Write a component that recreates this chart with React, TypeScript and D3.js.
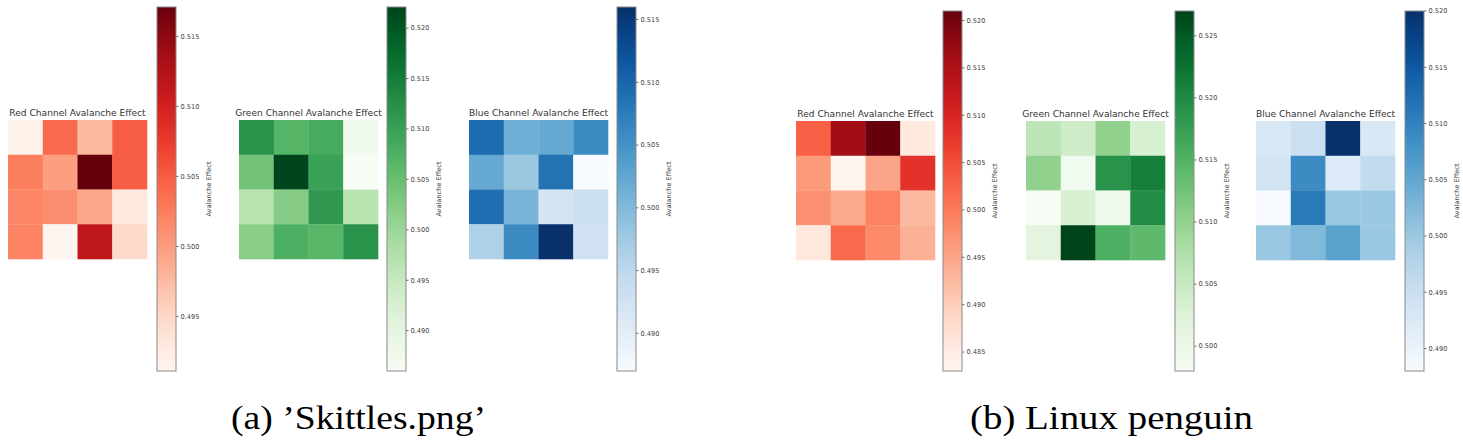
import React from 'react';
import * as d3 from 'd3';

// avalanche effect per 4x4 block, one grid per colour channel
const redSkittles = [
  [0.4916, 0.5041, 0.4976, 0.5049],
  [0.5025, 0.4999, 0.5171, 0.5049],
  [0.5018, 0.5012, 0.4992, 0.4929],
  [0.5020, 0.4911, 0.5114, 0.4947],
];
const greenSkittles = [
  [0.5120, 0.5069, 0.5084, 0.4878],
  [0.5041, 0.5221, 0.5098, 0.4860],
  [0.4968, 0.5022, 0.5113, 0.4968],
  [0.5019, 0.5077, 0.5066, 0.5120],
];
const blueSkittles = [
  [0.5093, 0.5015, 0.5021, 0.5059],
  [0.5021, 0.4980, 0.5085, 0.4870],
  [0.5090, 0.5006, 0.4922, 0.4934],
  [0.4963, 0.5059, 0.5160, 0.4928],
];
const redPenguin = [
  [0.5028, 0.5161, 0.5210, 0.4857],
  [0.4963, 0.4830, 0.4952, 0.5081],
  [0.4974, 0.4944, 0.4990, 0.4925],
  [0.4860, 0.5020, 0.4982, 0.4936],
];
const greenPenguin = [
  [0.5061, 0.5044, 0.5102, 0.5032],
  [0.5102, 0.4992, 0.5189, 0.5212],
  [0.4980, 0.5032, 0.4997, 0.5195],
  [0.5015, 0.5270, 0.5154, 0.5140],
];
const bluePenguin = [
  [0.4928, 0.4950, 0.5200, 0.4928],
  [0.4938, 0.5088, 0.4922, 0.4960],
  [0.4880, 0.5110, 0.5002, 0.5002],
  [0.5002, 0.5024, 0.5056, 0.5002],
];

const titles = [
  'Red Channel Avalanche Effect',
  'Green Channel Avalanche Effect',
  'Blue Channel Avalanche Effect',
];
const cbarLabel = 'Avalanche Effect';
const captions = ['(a) \u2019Skittles.png\u2019', '(b) Linux penguin'];

const W = 1463;
const H = 444;
const mplFont = '"DejaVu Sans", sans-serif';
const capFont = '"Liberation Serif", "Times New Roman", Times, serif';

// where each subplot sits
const panels = [
  { grid: redSkittles, title: titles[0], cmap: d3.interpolateReds, hx: 8, hy: 120, cx: 157, cy0: 7 },
  { grid: greenSkittles, title: titles[1], cmap: d3.interpolateGreens, hx: 239, hy: 120, cx: 387, cy0: 7 },
  { grid: blueSkittles, title: titles[2], cmap: d3.interpolateBlues, hx: 469, hy: 120, cx: 617, cy0: 7 },
  { grid: redPenguin, title: titles[0], cmap: d3.interpolateReds, hx: 796, hy: 121, cx: 943, cy0: 11 },
  { grid: greenPenguin, title: titles[1], cmap: d3.interpolateGreens, hx: 1026, hy: 121, cx: 1175, cy0: 11 },
  { grid: bluePenguin, title: titles[2], cmap: d3.interpolateBlues, hx: 1256, hy: 121, cx: 1405, cy0: 11 },
];
const captionPos = [
  { x: 231, w: 255 },
  { x: 970, w: 283 },
];

const cell = 34.75;
const cbarW = 19;
const cbarBottom = 371;

function Panel({ p, idx }: { p: typeof panels[number]; idx: number }) {
  const flat = p.grid.flat();
  const [lo, hi] = d3.extent(flat) as [number, number];
  const color = d3.scaleSequential(p.cmap).domain([lo, hi]);
  const idxs = d3.range(4);
  const x = d3.scaleBand<number>().domain(idxs).range([p.hx, p.hx + cell * 4]);
  const y = d3.scaleBand<number>().domain(idxs).range([p.hy, p.hy + cell * 4]);
  const cy = d3.scaleLinear().domain([lo, hi]).range([cbarBottom, p.cy0]);
  const ticks = cy.ticks(6);
  const gid = 'cbar' + idx;
  const stops = d3.range(0, 1.0001, 0.05);
  const midY = (p.cy0 + cbarBottom) / 2;

  return (
    <g>
      <defs>
        <linearGradient id={gid} x1="0" y1="1" x2="0" y2="0">
          {stops.map(t => (
            <stop key={t} offset={t} stopColor={p.cmap(t)} />
          ))}
        </linearGradient>
      </defs>
      <text
        x={p.hx + cell * 2}
        y={p.hy - 4}
        textAnchor="middle"
        style={{ fontFamily: mplFont, fontSize: 9.1 }}
        fill="#333"
      >
        {p.title}
      </text>
      {p.grid.map((row, r) =>
        row.map((v, c) => (
          <rect
            key={r + '-' + c}
            x={x(c)}
            y={y(r)}
            width={x.bandwidth() + 0.3}
            height={y.bandwidth() + 0.3}
            fill={color(v)}
          />
        ))
      )}
      <rect
        x={p.cx}
        y={p.cy0}
        width={cbarW}
        height={cbarBottom - p.cy0}
        fill={`url(#${gid})`}
        stroke="#8a8a8a"
        strokeWidth={1}
      />
      {ticks.map(t => (
        <g key={t} transform={`translate(${p.cx + cbarW},${cy(t)})`}>
          <line x1={0} x2={2.5} stroke="#555" strokeWidth={0.8} />
          <text x={4.5} dy="0.35em" style={{ fontFamily: mplFont, fontSize: 6.6 }} fill="#444">
            {d3.format('.3f')(t)}
          </text>
        </g>
      ))}
      <text
        transform={`translate(${p.cx + cbarW + 33},${midY}) rotate(-90)`}
        textAnchor="middle"
        dominantBaseline="central"
        style={{ fontFamily: mplFont, fontSize: 6.6 }}
        fill="#444"
      >
        {cbarLabel}
      </text>
    </g>
  );
}

export default function App() {
  return (
    <svg
      width={W}
      height={H}
      style={{ position: 'absolute', left: 0, top: 0, background: '#fff' }}
    >
      <rect width={W} height={H} fill="#fff" />
      {panels.map((p, i) => (
        <Panel key={i} p={p} idx={i} />
      ))}
      {captions.map((c, i) => (
        <text
          key={c}
          x={captionPos[i].x}
          y={429}
          style={{ fontFamily: capFont, fontSize: 34 }}
          textLength={captionPos[i].w}
          lengthAdjust="spacingAndGlyphs"
          fill="#000"
        >
          {c}
        </text>
      ))}
    </svg>
  );
}
